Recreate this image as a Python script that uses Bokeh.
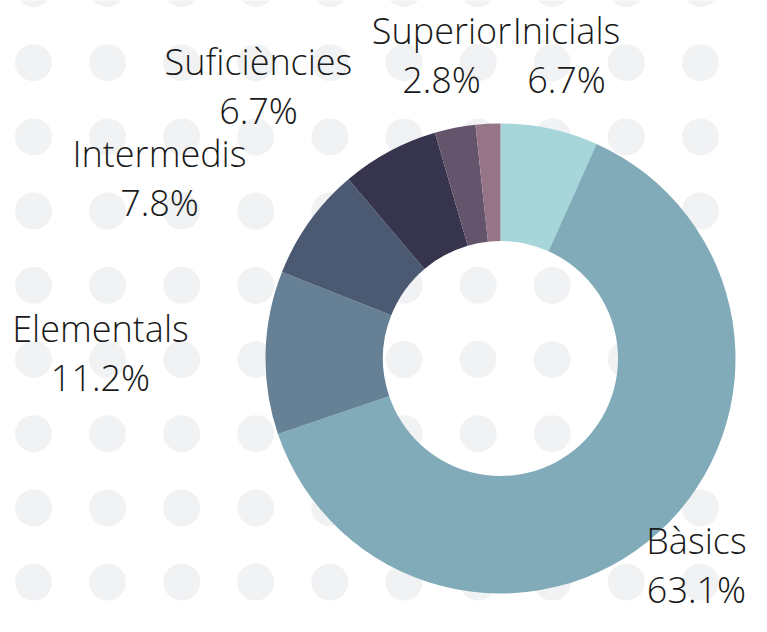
import numpy as np
from bokeh.plotting import figure
from bokeh.models import ColumnDataSource, Range1d
from bokeh.core.properties import value
from bokeh.embed import file_html
from bokeh.resources import INLINE

# ---- data ----
categories = ["Inicials", "Bàsics", "Elementals", "Intermedis", "Suficiències", "Superior", ""]
shares = [6.7, 63.1, 11.2, 7.8, 6.7, 2.8, 1.7]
colors = ["#a6d6da", "#82abb9", "#668096", "#4b5972", "#37354d", "#64546c", "#967587"]

# ---- layout (picture pixels) ----
W, H = 751, 616
CX, CY = 500, 358
R_OUT, R_IN = 235, 117.5
label_x = [566, 696, 100, 159, 258, 441]
label_y = [30, 540, 328, 153, 61, 30]
LINE_GAP = 49
FONT = value("Open Sans Light")
FONT_SIZE = "36px"

p = figure(width=W, height=H, output_backend="svg", toolbar_location=None,
           x_range=Range1d(0, W), y_range=Range1d(-H, 0),
           min_border=0, background_fill_color="white", border_fill_color="white")
p.axis.visible = False
p.grid.visible = False
p.outline_line_color = None

# dotted background
dx, dy = 74.1, 74.2
gx = [33 + dx * i for i in range(10)]
gy = [-12 + dy * j for j in range(9)]
xx, yy = np.meshgrid(gx, gy)
p.circle(x=xx.ravel(), y=-yy.ravel(), radius=18.5, fill_color="#f1f2f4", line_color=None)

# donut
vals = np.array(shares)
frac = vals / vals.sum()
cum = np.concatenate([[0], np.cumsum(frac)])
src = ColumnDataSource(dict(
    start=np.pi / 2 - 2 * np.pi * cum[:-1],
    end=np.pi / 2 - 2 * np.pi * cum[1:],
    color=colors,
    name=categories,
))
p.annular_wedge(x=CX, y=-CY, inner_radius=R_IN, outer_radius=R_OUT,
                start_angle="start", end_angle="end", direction="clock",
                fill_color="color", line_color=None, source=src)

# labels
n = len(label_x)
names = categories[:n]
pcts = [f"{v:.1f}%" for v in shares[:n]]
p.text(x=label_x, y=[-y for y in label_y], text=names,
       text_align="center", text_baseline="alphabetic",
       text_font=FONT, text_font_size=FONT_SIZE, text_color="#1a1a1a")
p.text(x=label_x, y=[-(y + LINE_GAP) for y in label_y], text=pcts,
       text_align="center", text_baseline="alphabetic",
       text_font=FONT, text_font_size=FONT_SIZE, text_color="#1a1a1a")

open("out.html", "w").write(file_html(p, INLINE))
